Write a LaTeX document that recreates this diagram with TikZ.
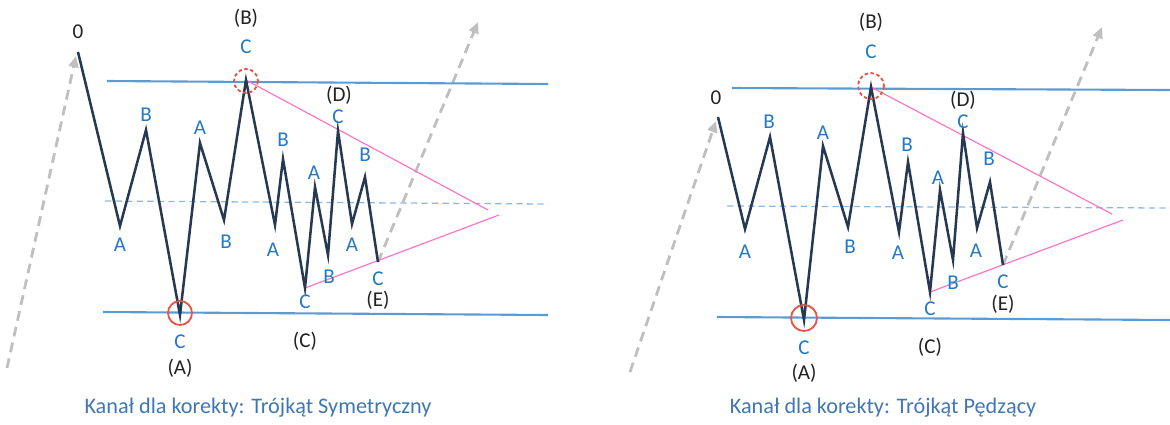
\documentclass[tikz,border=0pt]{standalone}
\usepackage{fontspec}
\setmainfont{Carlito}
\usetikzlibrary{arrows.meta}
\definecolor{wavecol}{HTML}{253A52}
\definecolor{chanblue}{HTML}{5B9BD5}
\definecolor{midblue}{HTML}{8DB8E2}
\definecolor{pinkline}{HTML}{FF6EC7}
\definecolor{ringred}{HTML}{E8534A}
\definecolor{trendgray}{HTML}{BFBFBF}
\definecolor{letterblue}{HTML}{2478C4}
\definecolor{titleblue}{HTML}{3F77B4}
\definecolor{markblack}{HTML}{222222}
\tikzset{
  wave/.style={draw=wavecol,line width=1.8pt,line join=miter},
  chan/.style={draw=chanblue,line width=1.5pt},
  midline/.style={draw=midblue,line width=0.9pt,dash pattern=on 4.5pt off 3pt},
  tri/.style={draw=pinkline,line width=0.8pt},
  trend/.style={draw=trendgray,line width=2pt,dash pattern=on 7pt off 4.5pt,
    -{Triangle[length=8pt,width=7pt]}},
  ring/.style={draw=ringred,line width=1.3pt},
  wl/.style={text=letterblue,font=\fontsize{15}{17}\selectfont,inner sep=0pt},
  wm/.style={text=markblack,font=\fontsize{15}{17}\selectfont,inner sep=0pt},
  ttl/.style={text=titleblue,font=\fontsize{15.8}{18}\selectfont,inner sep=0pt}
}
\begin{document}
\begin{tikzpicture}[x=0.025cm,y=-0.025cm]
\useasboundingbox (0,0) rectangle (1170,424);

% left: symmetric triangle
\coordinate (l0) at (78,52);
\coordinate (l1) at (120,226);
\coordinate (l2) at (146,130);
\coordinate (l3) at (180,315);
\coordinate (l4) at (200,143);
\coordinate (l5) at (224,220);
\coordinate (l6) at (246,80);
\coordinate (l7) at (275,225);
\coordinate (l8) at (283,159);
\coordinate (l9) at (305,288);
\coordinate (l10) at (315,187);
\coordinate (l11) at (328,255);
\coordinate (l12) at (338,131);
\coordinate (l13) at (352,224);
\coordinate (l14) at (365,177);
\coordinate (l15) at (378,262);
\coordinate (lstart) at (7,368);
\coordinate (lup) at (478,22);
\coordinate (ltop1) at (107,81);   \coordinate (ltop2) at (548,84);
\coordinate (lbot1) at (103,312);  \coordinate (lbot2) at (548,315);
\coordinate (lmid1) at (105,201);  \coordinate (lmid2) at (548,204);
\coordinate (lapx1) at (488,210);  \coordinate (lapx2) at (499,215);

\draw[trend] (lstart) -- (76,56);
\draw[trend] (l15) -- (lup);
\draw[chan] (ltop1) -- (ltop2);
\draw[chan] (lbot1) -- (lbot2);
\draw[midline] (lmid1) -- (lmid2);
\draw[tri] (l6) -- (lapx1);
\draw[tri] (l9) -- (lapx2);
\draw[wave] (l0) -- (l1) -- (l2) -- (l3) -- (l4) -- (l5) -- (l6) -- (l7)
  -- (l8) -- (l9) -- (l10) -- (l11) -- (l12) -- (l13) -- (l14) -- (l15);
\draw[ring] (180,313) circle (12);
\draw[ring,dash pattern=on 2.5pt off 1.8pt] (246,81) circle (12);

\node[wm] (lz) at (78,32) {0};
\node[wl] (la1) at (120,245) {A};
\node[wl] (lb1) at (146,115) {B};
\node[wl] (lc1) at (180,342) {C};
\node[wm] (lA) at (180,368) {(A)};
\node[wl] (la2) at (200,128) {A};
\node[wl] (lb2) at (226,242) {B};
\node[wl] (lc2) at (246,47) {C};
\node[wm] (lB) at (246,18) {(B)};
\node[wl] (la3) at (273,250) {A};
\node[wl] (lb3) at (283,140) {B};
\node[wl] (lc3) at (305,302) {C};
\node[wm] (lC) at (305,341) {(C)};
\node[wl] (la4) at (314,173) {A};
\node[wl] (lb4) at (329,277) {B};
\node[wl] (lc4) at (338,117) {C};
\node[wm] (lD) at (339,95) {(D)};
\node[wl] (la5) at (352,245) {A};
\node[wl] (lb5) at (365,155) {B};
\node[wl] (lc5) at (378,279) {C};
\node[wm] (lE) at (378,300) {(E)};
\node[ttl] (ltitle) at (258,408) {Kanał dla korekty: Trójkąt Symetryczny};

% right: running triangle
\coordinate (r0) at (718,117);
\coordinate (r1) at (745,229);
\coordinate (r2) at (770,137);
\coordinate (r3) at (804,320);
\coordinate (r4) at (823,146);
\coordinate (r5) at (848,227);
\coordinate (r6) at (871,87);
\coordinate (r7) at (899,232);
\coordinate (r8) at (908,162);
\coordinate (r9) at (930,292);
\coordinate (r10) at (940,190);
\coordinate (r11) at (953,260);
\coordinate (r12) at (963,133);
\coordinate (r13) at (977,228);
\coordinate (r14) at (990,182);
\coordinate (r15) at (1003,265);
\coordinate (rstart) at (630,372);
\coordinate (rup) at (1102,27);
\coordinate (rtop1) at (732,88);   \coordinate (rtop2) at (1170,90);
\coordinate (rbot1) at (717,317);  \coordinate (rbot2) at (1170,320);
\coordinate (rmid1) at (727,206);  \coordinate (rmid2) at (1170,208);
\coordinate (rapx1) at (1112,214); \coordinate (rapx2) at (1123,220);

\draw[trend] (rstart) -- (716,121);
\draw[trend] (r15) -- (rup);
\draw[chan] (rtop1) -- (rtop2);
\draw[chan] (rbot1) -- (rbot2);
\draw[midline] (rmid1) -- (rmid2);
\draw[tri] (r6) -- (rapx1);
\draw[tri] (r9) -- (rapx2);
\draw[wave] (r0) -- (r1) -- (r2) -- (r3) -- (r4) -- (r5) -- (r6) -- (r7)
  -- (r8) -- (r9) -- (r10) -- (r11) -- (r12) -- (r13) -- (r14) -- (r15);
\draw[ring] (804,318) circle (13);
\draw[ring,dash pattern=on 2.5pt off 1.8pt] (871,86) circle (13);

\node[wm] (rz) at (716,98) {0};
\node[wl] (ra1) at (745,252) {A};
\node[wl] (rb1) at (769,122) {B};
\node[wl] (rc1) at (804,348) {C};
\node[wm] (rA) at (804,373) {(A)};
\node[wl] (ra2) at (823,133) {A};
\node[wl] (rb2) at (850,247) {B};
\node[wl] (rc2) at (871,52) {C};
\node[wm] (rB) at (871,22) {(B)};
\node[wl] (ra3) at (898,253) {A};
\node[wl] (rb3) at (907,145) {B};
\node[wl] (rc3) at (930,309) {C};
\node[wm] (rC) at (930,347) {(C)};
\node[wl] (ra4) at (938,178) {A};
\node[wl] (rb4) at (953,283) {B};
\node[wl] (rc4) at (963,122) {C};
\node[wm] (rD) at (963,100) {(D)};
\node[wl] (ra5) at (976,251) {A};
\node[wl] (rb5) at (989,159) {B};
\node[wl] (rc5) at (1003,282) {C};
\node[wm] (rE) at (1003,304) {(E)};
\node[ttl] (rtitle) at (883,408) {Kanał dla korekty: Trójkąt Pędzący};
\end{tikzpicture}
\end{document}
